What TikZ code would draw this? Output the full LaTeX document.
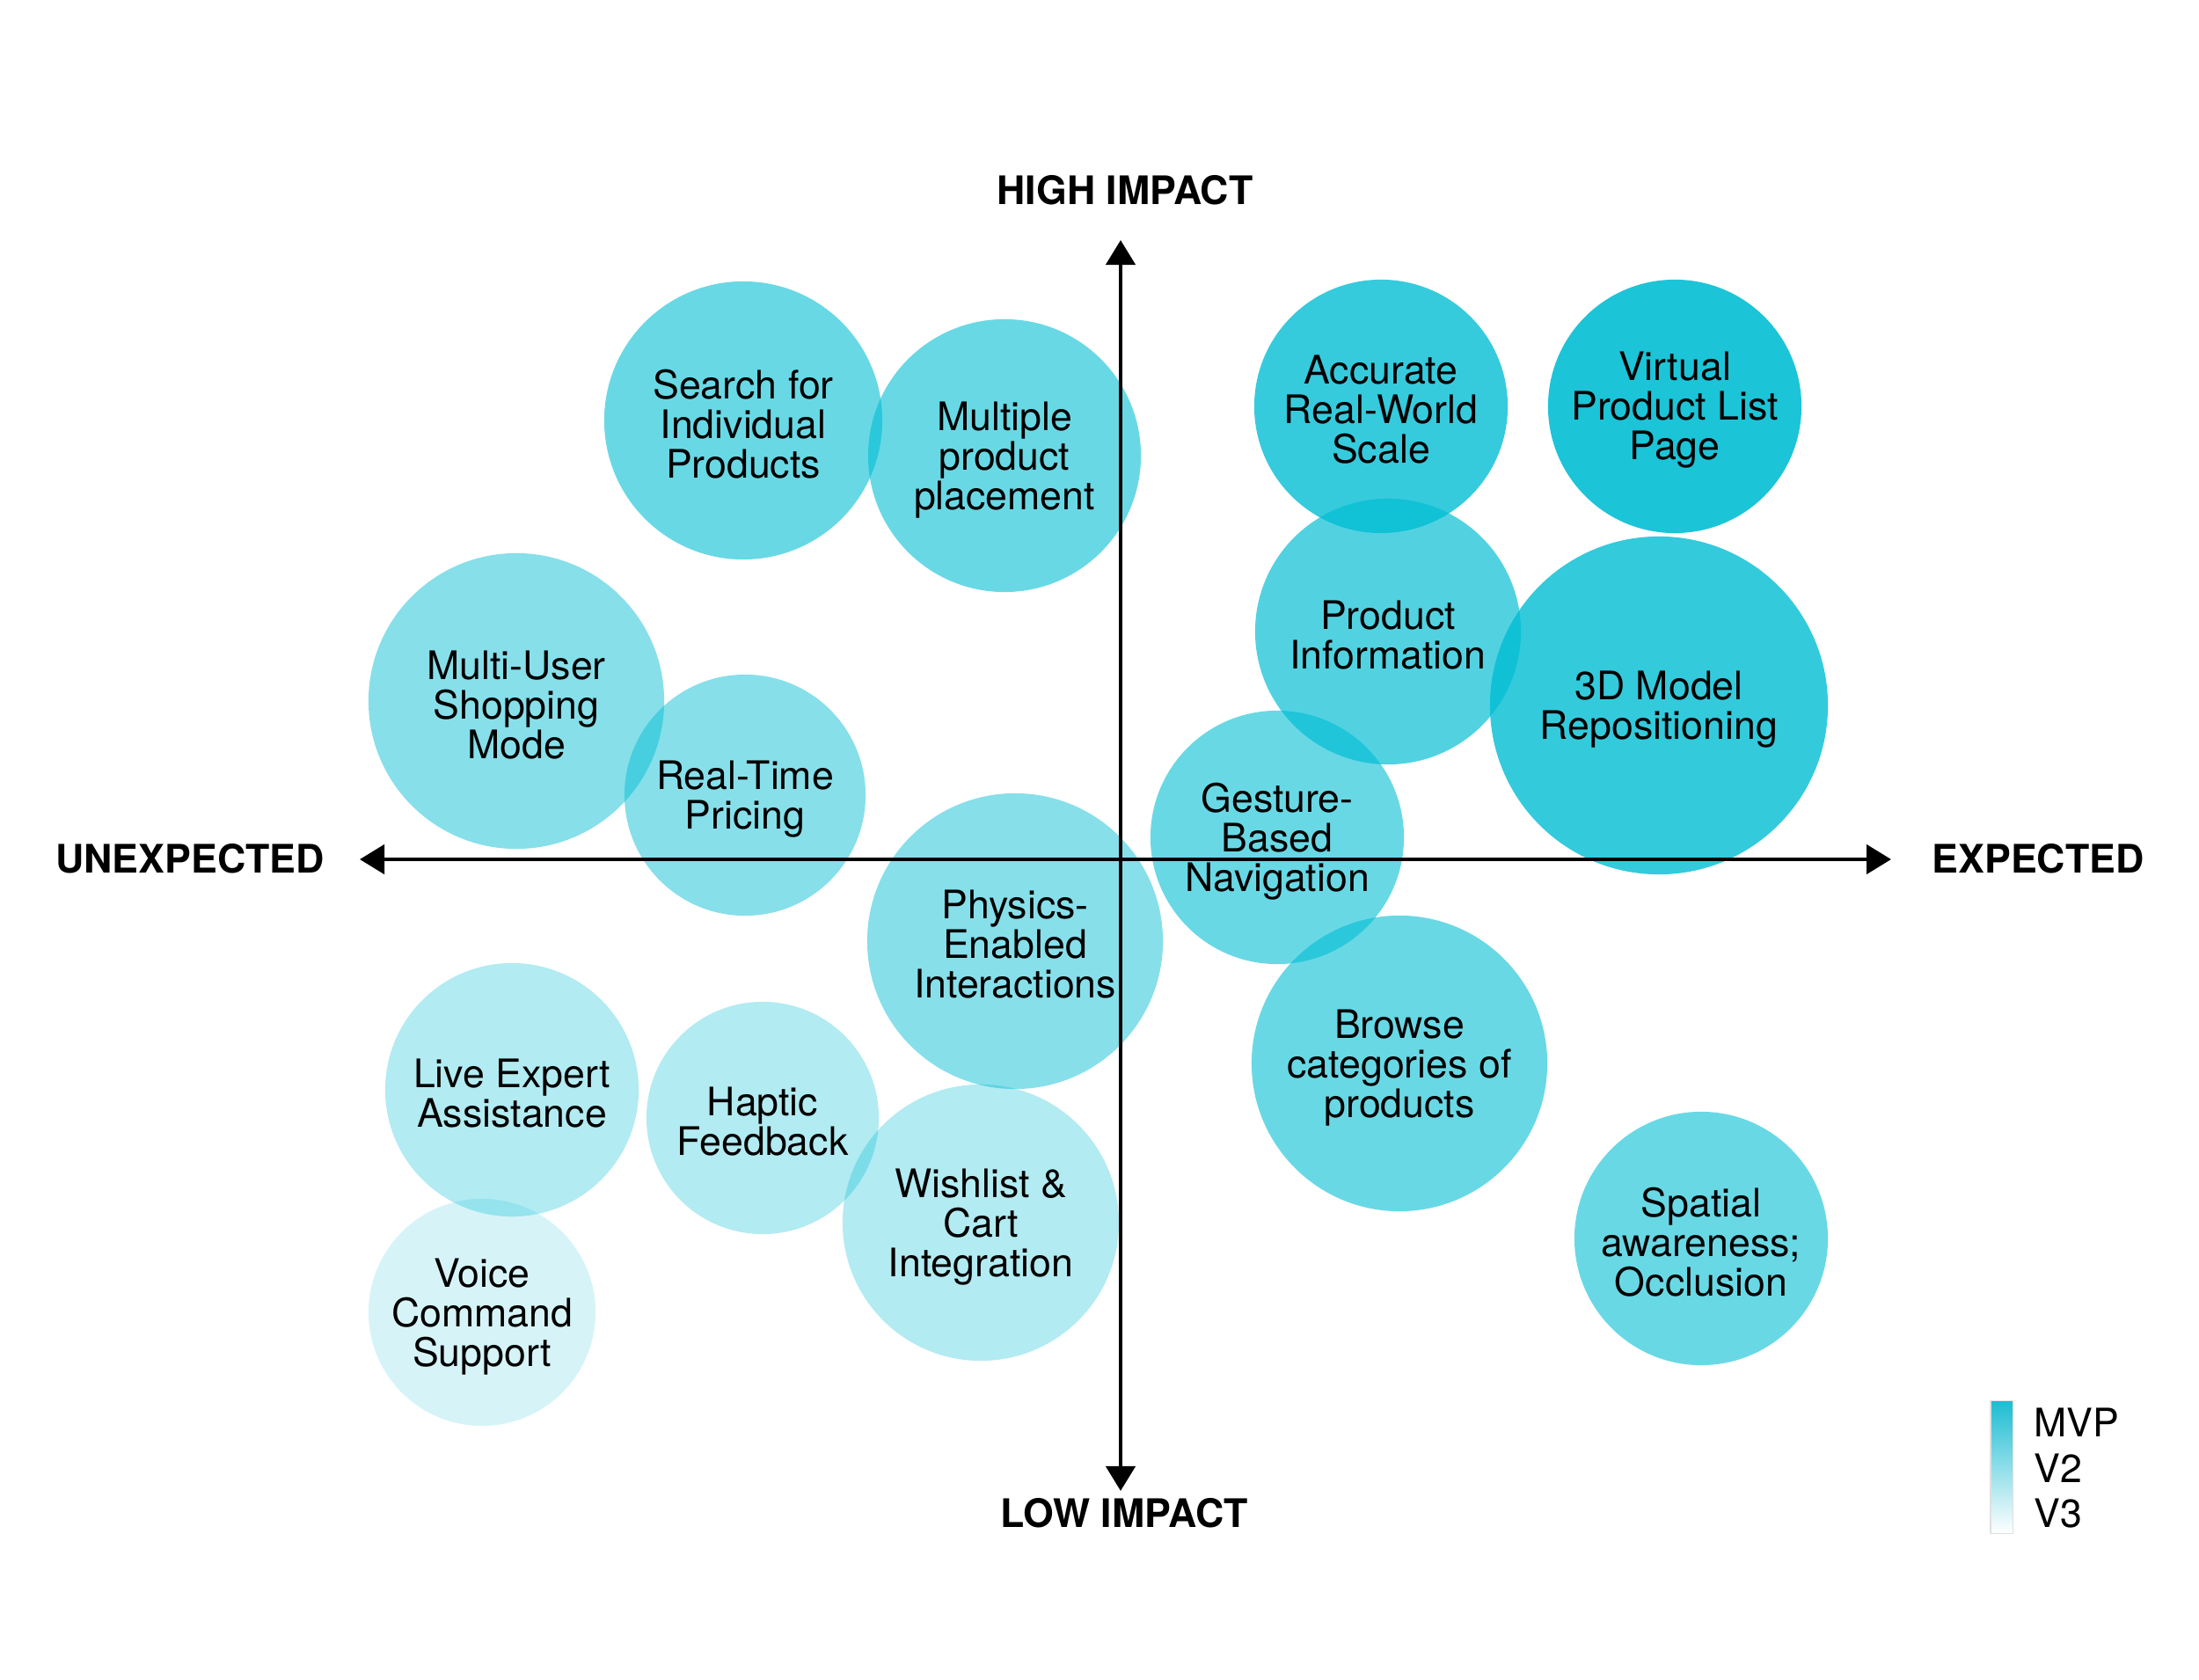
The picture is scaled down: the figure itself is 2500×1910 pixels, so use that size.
\documentclass[tikz,border=0pt]{standalone}
\usepackage{fontspec}
\setmainfont{TeX Gyre Heros}
\usetikzlibrary{arrows.meta}
\definecolor{cy}{HTML}{00BDD4}
\definecolor{legtop}{HTML}{1DBDD2}
\newcommand\lblfont{\fontsize{12.7pt}{12.8pt}\selectfont}
\newcommand\axfont{\fontsize{12.7pt}{12.8pt}\selectfont\bfseries}
\tikzset{
  bub/.style={circle, fill=cy, draw=none, fill opacity=#1, inner sep=0pt},
  bubtext/.style={inner sep=0pt, align=center, font=\lblfont},
  axis/.style={line width=1.28pt, {Triangle[width=0.33cm,length=0.28cm]}-{Triangle[width=0.33cm,length=0.28cm]}},
  axlabel/.style={font=\axfont, inner sep=0pt},
  legtext/.style={font=\lblfont, inner sep=0pt, anchor=base west}
}
\begin{document}
\begin{tikzpicture}[x=0.01cm, y=-0.01cm]
\useasboundingbox (0,0) rectangle (2500,1910);
\fill[white] (0,0) rectangle (2500,1910);

% bubbles
\node[bub=0.59, minimum size=3.16cm] (search) at (845,478) {};
\node[bub=0.59, minimum size=3.10cm] (multiple) at (1142,518) {};
\node[bub=0.79, minimum size=2.88cm] (accurate) at (1570,462) {};
\node[bub=0.89, minimum size=2.88cm] (virtual) at (1904,462) {};
\node[bub=0.68, minimum size=3.02cm] (prodinfo) at (1578,718) {};
\node[bub=0.80, minimum size=3.84cm] (model) at (1886,802) {};
\node[bub=0.47, minimum size=3.36cm] (multiuser) at (587,797) {};
\node[bub=0.47, minimum size=2.74cm] (realtime) at (847,904) {};
\node[bub=0.59, minimum size=2.88cm] (gesture) at (1452,952) {};
\node[bub=0.47, minimum size=3.36cm] (physics) at (1154,1070) {};
\node[bub=0.59, minimum size=3.36cm] (browse) at (1591,1209) {};
\node[bub=0.30, minimum size=2.88cm] (live) at (582,1239) {};
\node[bub=0.30, minimum size=2.64cm] (haptic) at (867,1271) {};
\node[bub=0.30, minimum size=3.14cm] (wishlist) at (1115,1390) {};
\node[bub=0.16, minimum size=2.58cm] (voice) at (548,1492) {};
\node[bub=0.59, minimum size=2.88cm] (spatial) at (1934,1408) {};

% bubble texts
\node[bubtext] (searchT) at ([yshift=-0.04cm]search.center) {Search for\\Individual\\Products};
\node[bubtext] (multipleT) at ([yshift=-0.05cm]multiple.center) {Multiple\\product\\placement};
\node[bubtext] (accurateT) at ([yshift=-0.04cm]accurate.center) {Accurate\\Real-World\\Scale};
\node[bubtext] (virtualT) at ([yshift=-0.04cm]virtual.center) {Virtual\\Product List\\Page};
\node[bubtext] (prodinfoT) at ([yshift=-0.04cm]prodinfo.center) {Product\\Information};
\node[bubtext] (modelT) at ([yshift=-0.05cm]model.center) {3D Model\\Repositioning};
\node[bubtext] (multiuserT) at ([yshift=-0.05cm]multiuser.center) {Multi-User\\Shopping\\Mode};
\node[bubtext] (realtimeT) at ([yshift=-0.05cm]realtime.center) {Real-Time\\Pricing};
\node[bubtext] (gestureT) at ([yshift=-0.05cm]gesture.center) {Gesture-\\Based\\Navigation};
\node[bubtext] (physicsT) at ([yshift=-0.04cm]physics.center) {Physics-\\Enabled\\Interactions};
\node[bubtext] (browseT) at ([yshift=-0.05cm]browse.center) {Browse\\categories of\\products};
\node[bubtext] (liveT) at ([yshift=-0.04cm]live.center) {Live Expert\\Assistance};
\node[bubtext] (hapticT) at ([yshift=-0.04cm]haptic.center) {Haptic\\Feedback};
\node[bubtext] (wishlistT) at ([yshift=-0.05cm]wishlist.center) {Wishlist \&\\Cart\\Integration};
\node[bubtext] (voiceT) at ([yshift=-0.05cm]voice.center) {Voice\\Command\\Support};
\node[bubtext] (spatialT) at ([yshift=-0.04cm]spatial.center) {Spatial\\awareness;\\Occlusion};

% axes
\coordinate (ytop) at (1274,273);
\coordinate (ybot) at (1274,1695);
\coordinate (xleft) at (409,977);
\coordinate (xright) at (2150,977);
\draw[axis] (ybot) -- (ytop);
\draw[axis] (xleft) -- (xright);

\node[axlabel] (high) at (1279,216) {HIGH IMPACT};
\node[axlabel] (low) at (1278,1720) {LOW IMPACT};
\node[axlabel] (unexp) at (216,976) {UNEXPECTED};
\node[axlabel] (exp) at (2317,976) {EXPECTED};

% legend
\node[rectangle, minimum width=0.25cm, minimum height=1.50cm, inner sep=0pt,
      top color=legtop, bottom color=white, draw=black!12, line width=0.3pt] (legbar) at (2275.5,1668) {};
\node[legtext] (mvp) at (2312,1633) {MVP};
\node[legtext] (v2) at (2312,1685) {V2};
\node[legtext] (v3) at (2312,1736) {V3};
\end{tikzpicture}
\end{document}
